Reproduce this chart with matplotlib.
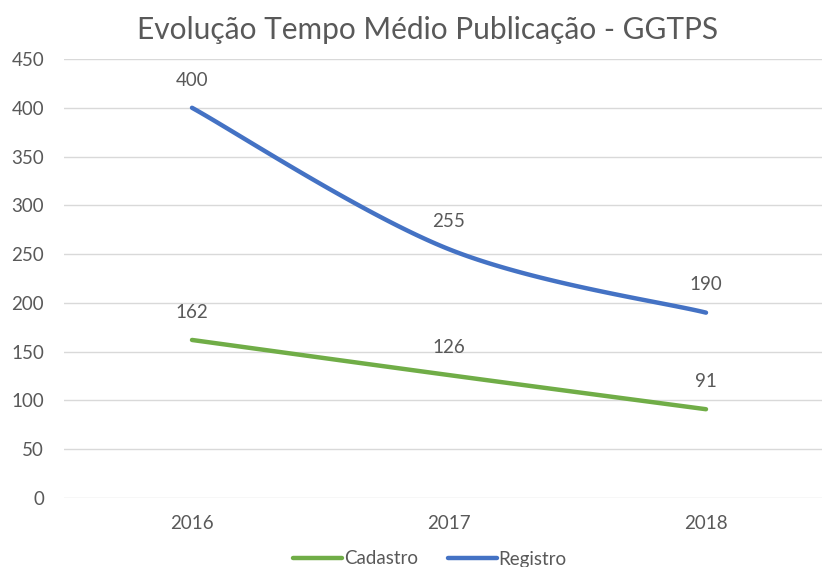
import numpy as np
import matplotlib
matplotlib.use('Agg')
import matplotlib.pyplot as plt

years = ['2016', '2017', '2018']
cadastro = [162, 126, 91]
registro = [400, 255, 190]
title = 'Evolução Tempo Médio Publicação - GGTPS'

plt.rcParams['font.family'] = ['Lato', 'DejaVu Sans']
gray = '#595959'


def smooth(y, n=60):
    # Catmull-Rom style bezier smoothing like the spreadsheet "smoothed line"
    x = np.arange(len(y), dtype=float)
    pts = np.column_stack([x, np.asarray(y, dtype=float)])
    ext = np.vstack([pts[0], pts, pts[-1]])
    out = []
    t = np.linspace(0, 1, n)[:, None]
    for i in range(len(pts) - 1):
        p0, p3 = ext[i + 1], ext[i + 2]
        c1 = p0 + (ext[i + 2] - ext[i]) / 6
        c2 = p3 - (ext[i + 3] - ext[i + 1]) / 6
        seg = ((1 - t) ** 3) * p0 + 3 * ((1 - t) ** 2) * t * c1 + 3 * (1 - t) * t ** 2 * c2 + t ** 3 * p3
        out.append(seg)
    out = np.vstack(out)
    return out[:, 0], out[:, 1]


fig = plt.figure(figsize=(8.22, 5.67), dpi=100)
ax = fig.add_axes([63.5 / 822, 69 / 567, 771 / 822, 439 / 567])

series = [('Cadastro', cadastro, '#70AD47'), ('Registro', registro, '#4472C4')]
for name, vals, col in series:
    sx, sy = smooth(vals)
    ax.plot(sx, sy, color=col, lw=3.2, solid_capstyle='round', label=name)
    for i, v in enumerate(vals):
        ax.annotate(str(v), (i, v), xytext=(0, 20), textcoords='offset points',
                    ha='center', va='center', fontsize=13.5, color=gray)

ax.set_xlim(-0.5, 2.5)
ax.set_ylim(0, 450)
ax.set_yticks(np.arange(0, 451, 50))
ax.set_xticks(range(len(years)))
ax.set_xticklabels(years)
ax.tick_params(axis='both', length=0, labelsize=13.5, labelcolor=gray)
ax.tick_params(axis='y', pad=14)
ax.tick_params(axis='x', pad=12)
ax.grid(axis='y', color='#d9d9d9', lw=1)
ax.set_axisbelow(True)
for s in ax.spines.values():
    s.set_visible(False)

fig.text(428 / 822, 1 - 30 / 567, title, ha='center', va='center', fontsize=21.5, color=gray)

fig.legend(loc='center', bbox_to_anchor=(430 / 822, 8 / 567), ncol=2, frameon=False,
           fontsize=13.5, labelcolor=gray, handlelength=2.6, handletextpad=0.1, columnspacing=1.6)

fig.savefig('out.png', dpi=100)
